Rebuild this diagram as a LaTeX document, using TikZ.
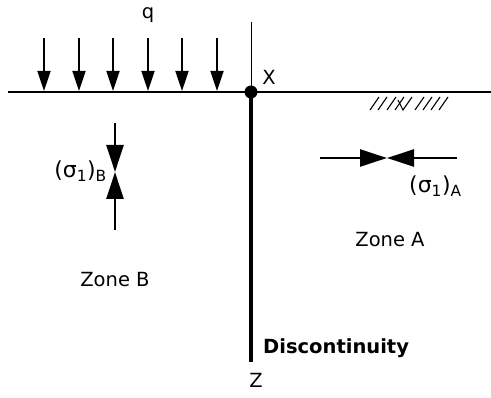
\documentclass[tikz,border=0pt]{standalone}
\usepackage{fontspec}
\setmainfont{DejaVu Sans}
\usetikzlibrary{arrows.meta}
\begin{document}
\begin{tikzpicture}[x=1pt,y=-1pt,
  lbl/.style={inner sep=0pt,font=\fontsize{19.5}{22}\selectfont},
  siglbl/.style={inner sep=0pt,font=\fontsize{22}{24}\selectfont},
  load/.style={line width=1.8pt,-{Triangle[length=20pt,width=13pt]}},
  stress/.style={line width=2.4pt,-{Triangle[length=27pt,width=17pt]}},
  hatch/.style={line width=1.1pt}]
\useasboundingbox (0,0) rectangle (491,398);
% coordinates
\coordinate (gl) at (8,92);
\coordinate (gr) at (491,92);
\coordinate (X) at (251,92);
\coordinate (top) at (251,22);
\coordinate (bot) at (251,362);
% ground and discontinuity
\draw[line width=2.8pt] (gl) -- (gr);
\draw[line width=1pt] (top) -- (X);
\draw[line width=4pt] (X) -- (bot);
\fill (X) circle (6.5);
% loads
\foreach \i/\x in {1/44,2/79,3/113,4/148,5/182,6/217}{
  \coordinate (s\i) at (\x,38);
  \coordinate (e\i) at (\x,91);
  \draw[load] (s\i) -- (e\i);
}
\node[lbl] (q) at (148,15) {q};
\node[lbl] (xl) at (269,77) {X};
% hatching
\foreach \b in {370,378,387,395,415,423,431,439}{
  \draw[hatch] (\b,110) -- (\b+9,97);
}
\draw[hatch] (398,100) -- (403,110) -- (412,97);
% stress B
\coordinate (bt) at (115,123);
\coordinate (bm) at (115,172);
\coordinate (bb) at (115,230);
\draw[stress] (bt) -- (bm);
\draw[stress] (bb) -- (bm);
\node[siglbl,anchor=east] (sb) at (107,171) {(σ\textsubscript{1})\textsubscript{B}};
% stress A
\coordinate (al) at (320,158);
\coordinate (am) at (387,158);
\coordinate (ar) at (457,158);
\draw[stress] (al) -- (am);
\draw[stress] (ar) -- (am);
\node[siglbl,anchor=west] (sa) at (409,186) {(σ\textsubscript{1})\textsubscript{A}};
% zones
\node[lbl] (za) at (390,240) {Zone A};
\node[lbl] (zb) at (115,280) {Zone B};
\node[lbl,font=\fontsize{19.5}{22}\selectfont\bfseries,anchor=west] (disc) at (263,348) {Discontinuity};
\node[lbl] (z) at (256,380) {Z};
\end{tikzpicture}
\end{document}
